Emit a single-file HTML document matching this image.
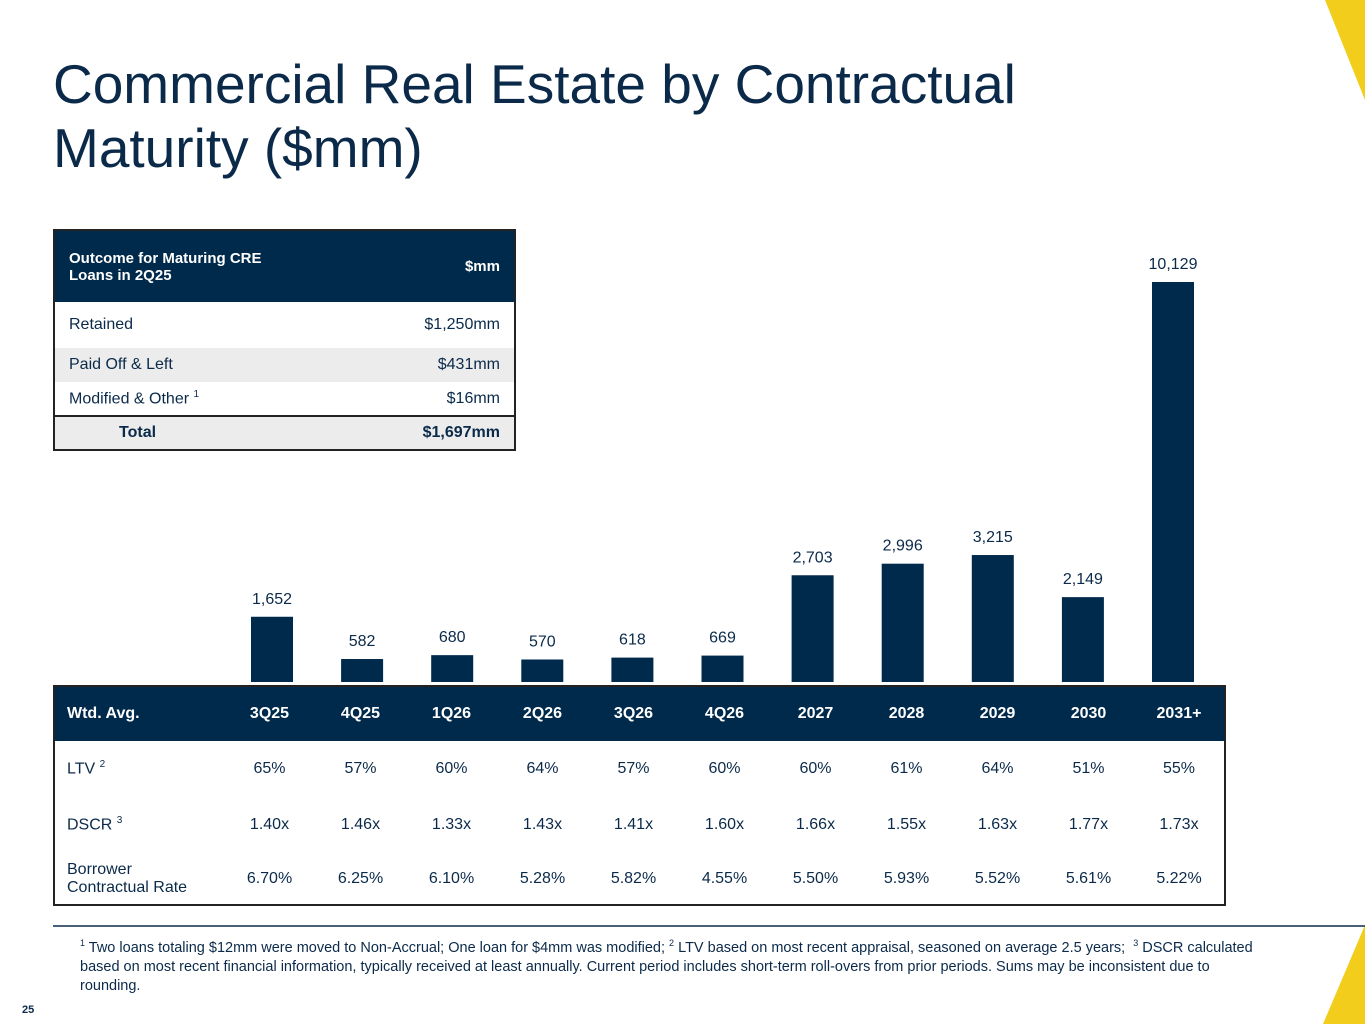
<!DOCTYPE html>
<html><head><meta charset="utf-8"><style>
body{margin:0;width:1365px;height:1024px;position:relative;overflow:hidden;background:#fff;font-family:"Liberation Sans",sans-serif;color:#0b2a4a}
.abs{position:absolute}
h1{position:absolute;left:53px;top:52px;margin:0;font-weight:normal;font-size:55px;line-height:64px;color:#0b2a4a}
table{border-collapse:collapse}
.st{position:absolute;left:53px;top:229px;width:463px;border:2px solid #222;font-size:16px}
.st td{padding:0 14px}
.mt{position:absolute;left:53px;top:685px;width:1171px;border:2px solid #222;font-size:16px;table-layout:fixed}
.mt td{text-align:center;padding:0}
</style></head><body>
<svg class="abs" style="left:0;top:0" width="1365" height="1024">
<polygon points="1325,0 1365,0 1365,100" fill="#f2cd1c"/>
<polygon points="1365,925 1323,1024 1365,1024" fill="#f2cd1c"/>
<line x1="53" y1="926" x2="1365" y2="926" stroke="#0b2a4a" stroke-width="1.5"/>
</svg>
<h1>Commercial Real Estate by Contractual<br>Maturity ($mm)</h1>
<table class="st">
<tr style="background:#002a4c;color:#fff;height:72px;font-weight:bold;font-size:15px"><td>Outcome for Maturing CRE<br>Loans in 2Q25</td><td style="text-align:right">$mm</td></tr>
<tr style="height:46px"><td>Retained</td><td style="text-align:right">$1,250mm</td></tr>
<tr style="height:34px;background:#ececec"><td>Paid Off &amp; Left</td><td style="text-align:right">$431mm</td></tr>
<tr style="height:34px"><td>Modified &amp; Other <sup style="font-size:10px">1</sup></td><td style="text-align:right">$16mm</td></tr>
<tr style="height:34px;background:#ececec;font-weight:bold;border-top:2px solid #222"><td style="padding-left:64px">Total</td><td style="text-align:right">$1,697mm</td></tr>
</table>
<svg id="chart" class="abs" style="left:0;top:0" width="1365" height="690"></svg>
<table class="mt">
<colgroup><col style="width:170px"><col span="11" style="width:91px"></colgroup>
<tr style="background:#002a4c;color:#fff;height:55px;font-weight:bold"><td style="text-align:left;padding-left:12px">Wtd. Avg.</td><td>3Q25</td><td>4Q25</td><td>1Q26</td><td>2Q26</td><td>3Q26</td><td>4Q26</td><td>2027</td><td>2028</td><td>2029</td><td>2030</td><td>2031+</td></tr>
<tr style="height:56px"><td style="text-align:left;padding-left:12px">LTV <sup style="font-size:10px">2</sup></td><td>65%</td><td>57%</td><td>60%</td><td>64%</td><td>57%</td><td>60%</td><td>60%</td><td>61%</td><td>64%</td><td>51%</td><td>55%</td></tr>
<tr style="height:56px"><td style="text-align:left;padding-left:12px">DSCR <sup style="font-size:10px">3</sup></td><td>1.40x</td><td>1.46x</td><td>1.33x</td><td>1.43x</td><td>1.41x</td><td>1.60x</td><td>1.66x</td><td>1.55x</td><td>1.63x</td><td>1.77x</td><td>1.73x</td></tr>
<tr style="height:52px"><td style="text-align:left;padding-left:12px">Borrower<br>Contractual Rate</td><td>6.70%</td><td>6.25%</td><td>6.10%</td><td>5.28%</td><td>5.82%</td><td>4.55%</td><td>5.50%</td><td>5.93%</td><td>5.52%</td><td>5.61%</td><td>5.22%</td></tr>
</table>
<div class="abs" style="left:80px;top:934px;width:1185px;font-size:14.5px;line-height:19px"><sup style="font-size:9px">1</sup> Two loans totaling $12mm were moved to Non-Accrual; One loan for $4mm was modified; <sup style="font-size:9px">2</sup> LTV based on most recent appraisal, seasoned on average 2.5 years;&nbsp; <sup style="font-size:9px">3</sup> DSCR calculated based on most recent financial information, typically received at least annually. Current period includes short-term roll-overs from prior periods. Sums may be inconsistent due to rounding.</div>
<div class="abs" style="left:22px;top:1004px;font-size:11px;font-weight:bold">25</div>
<script>
const categories=["3Q25","4Q25","1Q26","2Q26","3Q26","4Q26","2027","2028","2029","2030","2031+"];
const values=[1652,582,680,570,618,669,2703,2996,3215,2149,10129];
const labels=["1,652","582","680","570","618","669","2,703","2,996","3,215","2,149","10,129"];
const svg=document.getElementById('chart');const NS="http://www.w3.org/2000/svg";
const base=682,scale=400/10129;
function x(i){return 272+i*90.1;}
function y(v){return base-v*scale;}
values.forEach((v,i)=>{
 const r=document.createElementNS(NS,'rect');
 r.setAttribute('x',x(i)-21);r.setAttribute('y',y(v));r.setAttribute('width',42);r.setAttribute('height',base-y(v));r.setAttribute('fill','#002a4c');
 
 
 svg.appendChild(r);
 const t=document.createElementNS(NS,'text');
 t.setAttribute('x',x(i));t.setAttribute('y',y(v)-13);t.setAttribute('text-anchor','middle');t.setAttribute('font-size','16');t.setAttribute('fill','#0b2a4a');t.setAttribute('font-family','Liberation Sans, sans-serif');
 t.textContent=labels[i];
 
 
 svg.appendChild(t);
});
</script>
</body></html>
